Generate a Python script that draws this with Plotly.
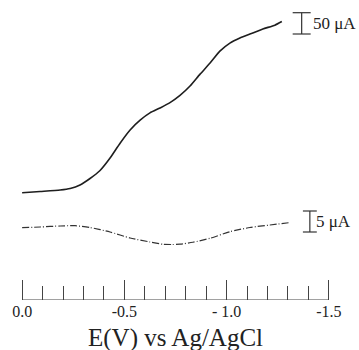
import plotly.graph_objects as go

# ---- data ----
volts_upper = [0.000, -0.088, -0.186, -0.235, -0.283, -0.332, -0.381, -0.430, -0.479, -0.528,
               -0.577, -0.625, -0.674, -0.723, -0.772, -0.821, -0.870, -0.919, -0.967, -1.016,
               -1.065, -1.114, -1.177, -1.236, -1.270]
current_upper = [0.5, 3.5, 7, 10.6, 18.8, 34, 52.8, 82, 117, 148,
                 171, 188, 199.5, 212, 229, 251, 279, 305, 333, 352,
                 364, 373, 385, 394, 402.5]          # uA

volts_lower = [0.000, -0.088, -0.186, -0.259, -0.332, -0.430, -0.528, -0.625, -0.689, -0.733,
               -0.772, -0.835, -0.919, -1.016, -1.114, -1.212, -1.305]
current_lower = [0.07, 0.24, 0.48, 0.55, 0.12, -0.95, -2.38, -3.33, -3.88, -3.93,
                 -3.86, -3.40, -2.45, -0.88, 0.12, 0.71, 1.26]   # uA

scale_upper = 50   # uA
scale_lower = 5    # uA
scale_labels = ["50 \u03bcA", "5 \u03bcA"]

tick_vals = [0.0, -0.5, -1.0, -1.5]
tick_text = ["0.0", "-0.5", "- 1.0", "-1.5"]
x_title = "E(V) vs Ag/AgCl"
axis_ends = [0.0, -1.5]

# ---- figure ----
W, H = 359, 350
PX_PER_V = 307 / 1.5
X0_PX = 22
PAD_V = 0.03
ML = X0_PX - PAD_V * PX_PER_V
MR = W - (X0_PX + 1.5 * PX_PER_V) - PAD_V * PX_PER_V
MT, MB = 5, 50
plot_h = H - MT - MB

up_per_px = scale_upper / 21.3
lo_per_px = scale_lower / 21.0
up_zero_py, lo_zero_py = 193.0, 228.0
up_range = [-(MT + plot_h - up_zero_py) * up_per_px, (up_zero_py - MT) * up_per_px]
lo_range = [-(MT + plot_h - lo_zero_py) * lo_per_px, (lo_zero_py - MT) * lo_per_px]

fig = go.Figure()
fig.add_trace(go.Scatter(x=volts_upper, y=current_upper, mode="lines",
                         line=dict(color="#1e1e1e", width=1.6, shape="spline", smoothing=0.6),
                         yaxis="y", showlegend=False, hoverinfo="skip"))
fig.add_trace(go.Scatter(x=volts_lower, y=current_lower, mode="lines",
                         line=dict(color="#333333", width=1.2, dash="7px,2px,1px,2px",
                                   shape="spline", smoothing=0.6),
                         yaxis="y2", showlegend=False, hoverinfo="skip"))

# axis baseline from 0.0 to -1.5
fig.add_trace(go.Scatter(x=axis_ends, y=[up_range[0], up_range[0]], mode="lines",
                         line=dict(color="#444", width=1.2), yaxis="y",
                         showlegend=False, hoverinfo="skip", cliponaxis=False))

def scale_bar(xc, y0, h, half, axis):
    fig.add_trace(go.Scatter(
        x=[xc, xc, None, xc - half, xc + half, None, xc - half, xc + half],
        y=[y0, y0 + h, None, y0, y0, None, y0 + h, y0 + h],
        mode="lines", line=dict(color="#333333", width=1.2),
        yaxis=axis, showlegend=False, hoverinfo="skip"))

ub_y0 = (up_zero_py - 34) * up_per_px
lb_y0 = (lo_zero_py - 232) * lo_per_px
scale_bar(-1.367, ub_y0, scale_upper, 0.044, "y")
scale_bar(-1.407, lb_y0, scale_lower, 0.034, "y2")

fig.add_annotation(x=-1.425, y=ub_y0 + scale_upper / 2, xref="x", yref="y", xshift=-3,
                   text=scale_labels[0], showarrow=False, xanchor="left", yanchor="middle",
                   font=dict(family="Liberation Serif", size=17, color="#222"))
fig.add_annotation(x=-1.440, y=lb_y0 + scale_lower / 2, xref="x", yref="y2", xshift=-3,
                   text=scale_labels[1], showarrow=False, xanchor="left", yanchor="middle",
                   font=dict(family="Liberation Serif", size=17, color="#222"))

# x-axis title placed below the tick labels
fig.add_annotation(x=sum(axis_ends) / 2, y=-(338 - (H - MB)) / plot_h, xref="x", yref="paper",
                   text=x_title, showarrow=False, xanchor="center", yanchor="middle",
                   font=dict(family="Liberation Serif", size=25, color="#222"))

fig.update_layout(
    width=W, height=H,
    margin=dict(l=ML, r=MR, t=MT, b=MB, pad=0),
    paper_bgcolor="white", plot_bgcolor="white",
    xaxis=dict(range=[PAD_V, -1.5 - PAD_V], showgrid=False, zeroline=False,
               showline=False, automargin=False,
               ticks="inside", ticklen=20, tickwidth=1.2, tickcolor="#444",
               tickmode="array", tickvals=tick_vals, ticktext=tick_text,
               tickfont=dict(family="Liberation Serif", size=16, color="#222"),
               minor=dict(ticks="inside", ticklen=14, tickwidth=1.1, tickcolor="#444",
                          tickmode="linear", tick0=0, dtick=0.1, showgrid=False)),
    yaxis=dict(range=up_range, visible=False, fixedrange=True),
    yaxis2=dict(range=lo_range, visible=False, overlaying="y", fixedrange=True),
)

fig.write_html("out.html")
